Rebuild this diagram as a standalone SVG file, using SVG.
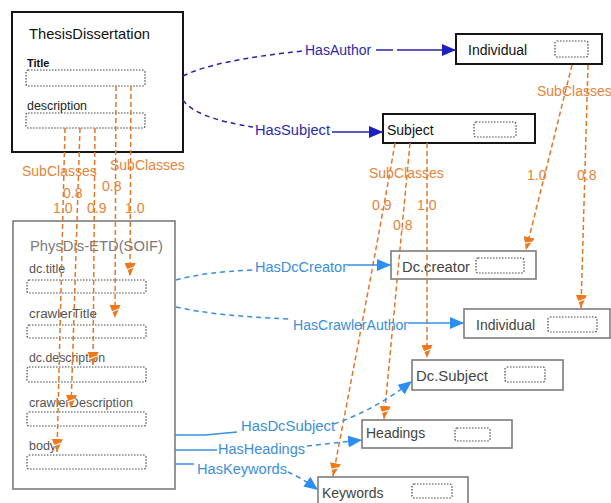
<svg xmlns="http://www.w3.org/2000/svg" width="611" height="503" viewBox="0 0 611 503">
<style>
.t{font-family:"Liberation Sans",Arial,sans-serif}
.boxd{fill:#fff;stroke:#151515;stroke-width:2}
.boxg{fill:#fff;stroke:#7c7c7c;stroke-width:1.6}
.fld{fill:none;stroke:#444;stroke-width:1.2;stroke-dasharray:1.5 1.5}
.ntxt{font-size:14px;fill:#111}
.gtxt{font-size:14px;fill:#444}
.ftxt{font-size:12px;fill:#222}
.pftxt{font-size:12.5px;fill:#555}
.sub{fill:none;stroke:#e0782a;stroke-width:1.5;stroke-dasharray:5 3}
.olbl{font-size:14px;fill:#e4843a}
.dk{fill:none;stroke:#2424a4;stroke-width:1.5}
.dkd{stroke-dasharray:5 4}
.lb{fill:none;stroke:#3a8fdf;stroke-width:1.5}
.lbd{stroke-dasharray:5 4}
.dklbl{font-size:14px;fill:#2b2ba8}
.lblbl{font-size:14px;fill:#3c8edc}
</style>
<defs>
<marker id="aDark" markerUnits="userSpaceOnUse" markerWidth="14" markerHeight="12" refX="14" refY="6" orient="auto"><path d="M0,0 L14,6 L0,12 z" fill="#1f1fc0"/></marker>
<marker id="aBlue" markerUnits="userSpaceOnUse" markerWidth="14" markerHeight="12" refX="14" refY="6" orient="auto"><path d="M0,0 L14,6 L0,12 z" fill="#2a8ff0"/></marker>
<marker id="aOr" markerUnits="userSpaceOnUse" markerWidth="13" markerHeight="11" refX="13" refY="5.5" orient="auto"><path d="M0,0 L13,5.5 L0,11 z" fill="#f07818"/><path d="M4,1.5 L7,9.5" stroke="#fff" stroke-width="1.2"/></marker>
</defs>
<rect width="611" height="503" fill="#fff"/>

<g id="node-thesis">
<rect class="boxd" x="12" y="12" width="171" height="140"/>
<text class="t" x="29" y="39" font-size="14.5" fill="#111" textLength="121" lengthAdjust="spacingAndGlyphs">ThesisDissertation</text>
<text class="t" x="27" y="67" font-size="11" font-weight="bold" fill="#111">Title</text>
<rect class="fld" x="26" y="70" width="119" height="16" rx="2"/>
<text class="t ftxt" x="27" y="110" textLength="60" lengthAdjust="spacingAndGlyphs">description</text>
<rect class="fld" x="26" y="113" width="119" height="15" rx="2"/>
</g>

<g id="node-physdis">
<rect class="boxg" x="13" y="221" width="162" height="268"/>
<text class="t" x="30" y="251" font-size="14" fill="#7a7a7a" textLength="133" lengthAdjust="spacingAndGlyphs">PhysDis-ETD(SOIF)</text>
<text class="t pftxt" x="29" y="273">dc.title</text>
<rect class="fld" x="27" y="280" width="119" height="13" rx="2"/>
<text class="t pftxt" x="29" y="318" textLength="68" lengthAdjust="spacingAndGlyphs">crawlerTitle</text>
<rect class="fld" x="27" y="325" width="119" height="13" rx="2"/>
<text class="t pftxt" x="29" y="362" textLength="76" lengthAdjust="spacingAndGlyphs">dc.description</text>
<rect class="fld" x="27" y="367" width="119" height="15" rx="2"/>
<text class="t pftxt" x="29" y="407" textLength="104" lengthAdjust="spacingAndGlyphs">crawlerDescription</text>
<rect class="fld" x="27" y="412" width="119" height="14" rx="2"/>
<text class="t pftxt" x="29" y="450">body</text>
<rect class="fld" x="27" y="455" width="119" height="14" rx="2"/>
</g>

<g id="node-individual">
<rect class="boxd" x="456" y="34" width="146" height="30"/>
<text class="t ntxt" x="468" y="55">Individual</text>
<rect class="fld" x="555" y="41" width="33" height="16" rx="2"/>
</g>

<g id="node-subject">
<rect class="boxd" x="383" y="114" width="152" height="29"/>
<text class="t ntxt" x="387" y="135">Subject</text>
<rect class="fld" x="474" y="122" width="42" height="15" rx="2"/>
</g>

<g id="node-dccreator">
<rect class="boxg" x="391" y="251" width="145" height="28"/>
<text class="t gtxt" x="402" y="272" textLength="68" lengthAdjust="spacingAndGlyphs">Dc.creator</text>
<rect class="fld" x="476" y="258" width="48" height="15" rx="2"/>
</g>

<g id="node-individual2">
<rect class="boxg" x="464" y="309" width="146" height="29"/>
<text class="t gtxt" x="476" y="330">Individual</text>
<rect class="fld" x="548" y="317" width="49" height="15" rx="2"/>
</g>

<g id="node-dcsubject">
<rect class="boxg" x="412" y="360" width="151" height="30"/>
<text class="t gtxt" x="416" y="381" textLength="72" lengthAdjust="spacingAndGlyphs">Dc.Subject</text>
<rect class="fld" x="505" y="367" width="40" height="15" rx="2"/>
</g>

<g id="node-headings">
<rect class="boxg" x="362" y="420" width="150" height="28"/>
<text class="t gtxt" x="366" y="438">Headings</text>
<rect class="fld" x="455" y="428" width="35" height="13" rx="2"/>
</g>

<g id="node-keywords">
<rect class="boxg" x="318" y="477" width="150" height="30"/>
<text class="t gtxt" x="322" y="498">Keywords</text>
<rect class="fld" x="412" y="484" width="40" height="14" rx="2"/>
</g>

<g id="connectors">
<!-- SubClasses from ThesisDissertation -->
<path class="sub" d="M116,86 L115,318" marker-end="url(#aOr)"/>
<path class="sub" d="M131,86 L130,276" marker-end="url(#aOr)"/>
<path class="sub" d="M65,128 L57,452" marker-end="url(#aOr)"/>
<path class="sub" d="M80,128 L71,408" marker-end="url(#aOr)"/>
<path class="sub" d="M95,128 L93,365" marker-end="url(#aOr)"/>
<text class="t olbl" x="22" y="176">SubClasses</text>
<text class="t olbl" x="110" y="170">SubClasses</text>
<text class="t olbl" x="63" y="198">0.8</text>
<text class="t olbl" x="53" y="213">1.0</text>
<text class="t olbl" x="87" y="213">0.9</text>
<text class="t olbl" x="102" y="191">0.8</text>
<text class="t olbl" x="125" y="213">1.0</text>

<!-- SubClasses from Individual -->
<path class="sub" d="M572,65 L526,250" marker-end="url(#aOr)"/>
<path class="sub" d="M588,65 L581,308" marker-end="url(#aOr)"/>
<text class="t olbl" x="537" y="96">SubClasses</text>
<text class="t olbl" x="527" y="180">1.0</text>
<text class="t olbl" x="577" y="180">0.8</text>

<!-- SubClasses from Subject -->
<path class="sub" d="M395,143 Q382,220 333,476" marker-end="url(#aOr)"/>
<path class="sub" d="M410,143 L384,419" marker-end="url(#aOr)"/>
<path class="sub" d="M427,143 L427,358" marker-end="url(#aOr)"/>
<text class="t olbl" x="369" y="178">SubClasses</text>
<text class="t olbl" x="372" y="210">0.9</text>
<text class="t olbl" x="417" y="210">1.0</text>
<text class="t olbl" x="393" y="230">0.8</text>

<!-- HasAuthor -->
<path class="dk dkd" d="M183,76 Q215,60 303,51"/>
<text class="t dklbl" x="305" y="55">HasAuthor</text>
<path class="dk" d="M376,50 L393,50 M397,50 L456,50" marker-end="url(#aDark)"/>

<!-- HasSubject -->
<path class="dk dkd" d="M183,100 Q195,118 253,127"/>
<text class="t dklbl" x="255" y="135" textLength="75" lengthAdjust="spacingAndGlyphs">HasSubject</text>
<path class="dk" d="M332,132 L383,132" marker-end="url(#aDark)"/>

<!-- HasDcCreator -->
<path class="lb lbd" d="M176,280 Q205,272 253,270"/>
<text class="t lblbl" x="255" y="272" textLength="92" lengthAdjust="spacingAndGlyphs">HasDcCreator</text>
<path class="lb" d="M347,265 L391,265" marker-end="url(#aBlue)"/>

<!-- HasCrawlerAuthor -->
<path class="lb lbd" d="M176,307 Q215,316 290,319"/>
<text class="t lblbl" x="293" y="330" textLength="115" lengthAdjust="spacingAndGlyphs">HasCrawlerAuthor</text>
<path class="lb" d="M408,323 L464,323" marker-end="url(#aBlue)"/>

<!-- HasDcSubject -->
<path class="lb" d="M175,435 L205,435 L237,432"/>
<text class="t lblbl" x="241" y="431" textLength="94" lengthAdjust="spacingAndGlyphs">HasDcSubject</text>
<path class="lb lbd" d="M334,424 Q375,410 412,381" marker-end="url(#aBlue)"/>

<!-- HasHeadings -->
<path class="lb" d="M175,450 L217,450"/>
<text class="t lblbl" x="218" y="454" textLength="87" lengthAdjust="spacingAndGlyphs">HasHeadings</text>
<path class="lb lbd" d="M307,446 L362,440" marker-end="url(#aBlue)"/>

<!-- HasKeywords -->
<path class="lb" d="M175,464 L194,464"/>
<text class="t lblbl" x="197" y="474" textLength="90" lengthAdjust="spacingAndGlyphs">HasKeywords</text>
<path class="lb lbd" d="M288,472 Q302,478 318,490" marker-end="url(#aBlue)"/>
</g>
</svg>
